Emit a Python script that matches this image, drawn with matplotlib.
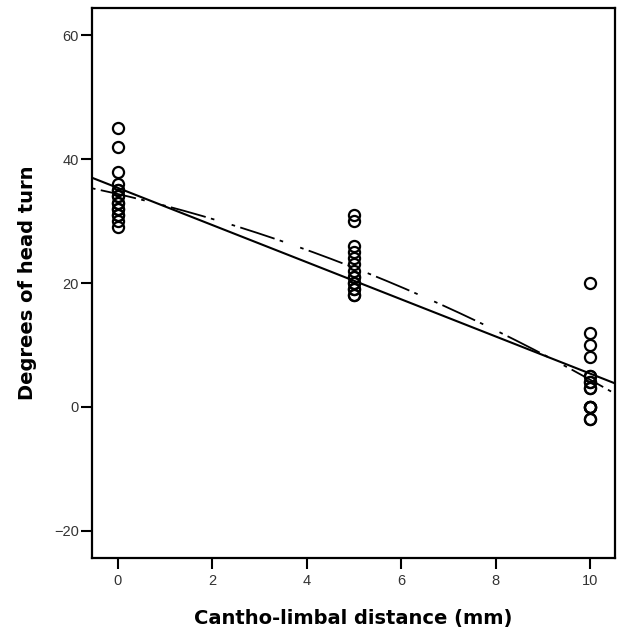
import numpy as np
import matplotlib.pyplot as plt

# cantho-limbal distance groups and head turn readings
dist_0 = [45, 42, 38, 36, 35, 35, 34, 34, 33, 33, 32, 32, 31, 31, 30, 29]
dist_5 = [31, 30, 26, 25, 24, 23, 22, 21, 21, 20, 20, 19, 19, 18, 18]
dist_10 = [20, 12, 10, 8, 5, 5, 4, 4, 3, 3, 0, 0, 0, -2, -2, 0]

x_ticks = [0, 2, 4, 6, 8, 10]
y_ticks = [-20, 0, 20, 40, 60]

xs = np.array([0] * len(dist_0) + [5] * len(dist_5) + [10] * len(dist_10), dtype=float)
ys = np.array(dist_0 + dist_5 + dist_10, dtype=float)

lin = np.polyfit(xs, ys, 1)
quad = np.polyfit(xs, ys, 2)

fig = plt.figure(figsize=(6.17, 6.31), dpi=100)
ax = fig.add_axes([0.149, 0.116, 0.848, 0.871])

xx = np.linspace(-0.55, 10.53, 200)
ax.plot(xx, np.polyval(lin, xx), color='black', lw=1.5)
ax.plot(xx, np.polyval(quad, xx), color='black', lw=1.3,
        linestyle=(0, (2, 3, 20, 3, 2, 10)))

ax.plot(xs, ys, 'o', mfc='none', mec='black', ms=8, mew=1.6)

ax.set_xlim(-0.55, 10.53)
ax.set_ylim(-24.4, 64.4)
ax.set_xticks(x_ticks)
ax.set_yticks(y_ticks)

for s in ax.spines.values():
    s.set_linewidth(1.6)
ax.tick_params(length=8, width=1.5, labelsize=10.5, labelcolor='#333333')
ax.tick_params(axis='x', pad=4)
ax.tick_params(axis='y', pad=1.5)
for lbl in ax.get_xticklabels() + ax.get_yticklabels():
    lbl.set_family('Liberation Sans')

ax.set_xlabel('Cantho-limbal distance (mm)', fontsize=14, fontweight='bold',
              family='DejaVu Sans', labelpad=15)
ax.set_ylabel('Degrees of head turn', fontsize=14, fontweight='bold',
              family='DejaVu Sans', labelpad=12)

fig.savefig('out.png', dpi=100)
